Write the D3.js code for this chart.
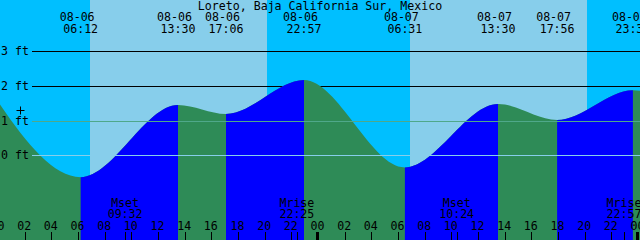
<!DOCTYPE html>
<html>
<head>
<meta charset="utf-8">
<script src="https://cdn.jsdelivr.net/npm/d3@7"></script>
<style>
  body { margin: 0; background: #fff; }
  svg { display: block; }
  text { font-family: "DejaVu Sans Mono", monospace; font-size: 11.6px; fill: #000; }
</style>
</head>
<body>
<svg id="chart" width="640" height="240"></svg>
<script>
var title = "Loreto, Baja California Sur, Mexico";

// tide extremes (first and last are just off the chart)
var tideDates  = ["08-05", "08-06", "08-06", "08-06", "08-06", "08-07", "08-07", "08-07", "08-07", "08-08"];
var tideTimes  = ["22:52", "06:12", "13:30", "17:06", "22:57", "06:31", "13:30", "17:56", "23:37", "07:00"];
var tideLevels = [2.2, -0.63, 1.45, 1.19, 2.17, -0.35, 1.48, 1.02, 1.88, -0.1];

// sun, day by day
var sunDates = ["08-06", "08-07"];
var sunrise  = ["06:54", "06:54"];
var sunset   = ["20:10", "20:10"];

// moon events shown along the bottom
var moonNames = ["Mset", "Mrise", "Mset", "Mrise"];
var moonDates = ["08-06", "08-06", "08-07", "08-07"];
var moonTimes = ["09:32", "22:25", "10:24", "22:57"];

var depthTicks = [0, 1, 2, 3];
var hourTicks = d3.range(0, 50, 2);
var nowTime = ["08-06", "01:39"], nowLevel = 1.3;

var width = 640, height = 240;
var chartStart = 0.15, chartHours = 48;

var toHours = function(date, time) {
  var day = +date.split("-")[1] - 6;
  var hm = time.split(":");
  return day * 24 + (+hm[0]) + (+hm[1]) / 60;
};

var x = d3.scaleLinear().domain([chartStart, chartStart + chartHours]).range([0, width]);
var y = d3.scaleLinear().domain([0, 3]).range([155.3, 51.3]);

var tides = tideTimes.map(function(t, i) {
  return { t: toHours(tideDates[i], t), level: tideLevels[i], date: tideDates[i], time: t };
});

var svg = d3.select("#chart");

// sky: night everywhere, day bands on top
svg.append("rect").attr("width", width).attr("height", height).attr("fill", "#00bfff");
svg.selectAll("rect.day")
  .data(sunDates)
  .enter().append("rect")
  .attr("class", "day")
  .attr("x", function(d, i) { return x(toHours(d, sunrise[i])); })
  .attr("width", function(d, i) { return x(toHours(d, sunset[i])) - x(toHours(d, sunrise[i])); })
  .attr("y", 0).attr("height", height)
  .attr("fill", "#87ceeb")
  .attr("shape-rendering", "crispEdges");

// depth lines behind the water
svg.selectAll("line.depth")
  .data(depthTicks.filter(function(d) { return d >= 2; }))
  .enter().append("line")
  .attr("x1", 32).attr("x2", width)
  .attr("y1", function(d) { return Math.round(y(d)) + 0.5; })
  .attr("y2", function(d) { return Math.round(y(d)) + 0.5; })
  .attr("stroke", "#000");

// water: ebb in green, flood in blue
var area = d3.area()
  .x(function(d) { return x(d.t); })
  .y0(height)
  .y1(function(d) { return y(d.level); })
  .curve(d3.curveMonotoneX);

var defs = svg.append("defs");
var flood = defs.append("clipPath").attr("id", "flood");
for (var i = 0; i < tides.length - 1; i++) {
  if (tides[i + 1].level > tides[i].level) {
    flood.append("rect")
      .attr("x", x(tides[i].t)).attr("width", x(tides[i + 1].t) - x(tides[i].t))
      .attr("y", 0).attr("height", height);
  }
}

svg.append("path").datum(tides).attr("d", area).attr("fill", "#2e8b57");
svg.append("path").datum(tides).attr("d", area).attr("fill", "#0000ff")
  .attr("clip-path", "url(#flood)");

// 1 ft and 0 ft lines drawn over the water
svg.append("line")
  .attr("x1", 32).attr("x2", width)
  .attr("y1", Math.round(y(1)) + 0.5).attr("y2", Math.round(y(1)) + 0.5)
  .attr("stroke", "#4fa88a");
svg.append("line")
  .attr("x1", 32).attr("x2", width)
  .attr("y1", Math.round(y(0)) + 0.5).attr("y2", Math.round(y(0)) + 0.5)
  .attr("stroke", "#87ceeb");

svg.selectAll("text.depth")
  .data(depthTicks)
  .enter().append("text")
  .attr("x", 1)
  .attr("y", function(d) { return y(d) + 4; })
  .text(function(d) { return d + " ft"; });

// current time marker
var nx = Math.round(x(toHours(nowTime[0], nowTime[1]))) + 0.5,
    ny = Math.round(y(nowLevel)) + 0.5;
svg.append("path")
  .attr("d", "M" + (nx - 4) + "," + ny + "H" + (nx + 4) + "M" + nx + "," + (ny - 4) + "V" + (ny + 4))
  .attr("stroke", "#000").attr("fill", "none");

// title and tide event labels
svg.append("text").attr("x", 320).attr("y", 10).attr("text-anchor", "middle").text(title);

var shown = tides.filter(function(d) { return d.t > chartStart && d.t < chartStart + chartHours; });
svg.selectAll("text.evdate")
  .data(shown)
  .enter().append("text")
  .attr("x", function(d) { return x(d.t) - 3.5; })
  .attr("y", 21)
  .attr("text-anchor", "middle")
  .text(function(d) { return d.date; });
svg.selectAll("text.evtime")
  .data(shown)
  .enter().append("text")
  .attr("x", function(d) { return x(d.t); })
  .attr("y", 33)
  .attr("text-anchor", "middle")
  .text(function(d) { return d.time; });

// hour ticks along the bottom
svg.selectAll("line.hour")
  .data(hourTicks.filter(function(h) { return h % 24 != 0; }))
  .enter().append("line")
  .attr("x1", function(h) { return Math.round(x(h)) + 0.5; })
  .attr("x2", function(h) { return Math.round(x(h)) + 0.5; })
  .attr("y1", 232).attr("y2", height)
  .attr("stroke", "#000");
svg.selectAll("rect.midnight")
  .data(hourTicks.filter(function(h) { return h % 24 == 0; }))
  .enter().append("rect")
  .attr("x", function(h) { return Math.round(x(h)) - 2; })
  .attr("width", 3)
  .attr("y", 232).attr("height", 8)
  .attr("fill", "#000");
svg.selectAll("text.hour")
  .data(hourTicks)
  .enter().append("text")
  .attr("x", function(h) { return x(h) - 0.5; })
  .attr("y", 230)
  .attr("text-anchor", "middle")
  .text(function(h) { return d3.format("02")(h % 24); });

// moon rise / set
svg.selectAll("line.moon")
  .data(moonTimes)
  .enter().append("line")
  .attr("x1", function(d, i) { return Math.round(x(toHours(moonDates[i], d))) + 0.5; })
  .attr("x2", function(d, i) { return Math.round(x(toHours(moonDates[i], d))) + 0.5; })
  .attr("y1", 232).attr("y2", height)
  .attr("stroke", "#000");
svg.selectAll("text.moonname")
  .data(moonNames)
  .enter().append("text")
  .attr("x", function(d, i) { return x(toHours(moonDates[i], moonTimes[i])); })
  .attr("y", 207)
  .attr("text-anchor", "middle")
  .text(function(d) { return d; });
svg.selectAll("text.moontime")
  .data(moonTimes)
  .enter().append("text")
  .attr("x", function(d, i) { return x(toHours(moonDates[i], d)); })
  .attr("y", 218)
  .attr("text-anchor", "middle")
  .text(function(d) { return d; });
</script>
</body>
</html>
